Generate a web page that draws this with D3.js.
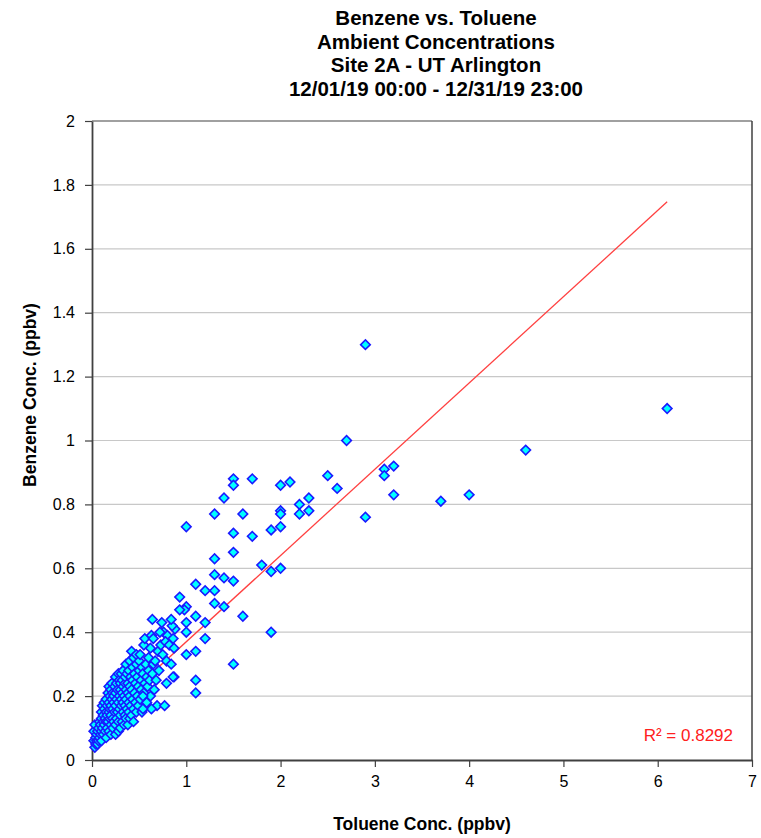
<!DOCTYPE html>
<html>
<head>
<meta charset="utf-8">
<script src="https://cdn.jsdelivr.net/npm/d3@7"></script>
<style>
  body { margin: 0; background: #fff; }
  text { font-family: "Liberation Sans", Arial, sans-serif; }
</style>
</head>
<body>
<div id="chart"></div>
<script>
// title lines
const titleLines = ["Benzene vs. Toluene", "Ambient Concentrations", "Site 2A - UT Arlington", "12/01/19 00:00 - 12/31/19 23:00"];
const xLabel = "Toluene Conc. (ppbv)";
const yLabel = "Benzene Conc. (ppbv)";
const xTicks = [0, 1, 2, 3, 4, 5, 6, 7];
const yTicks = [0, 0.2, 0.4, 0.6, 0.8, 1, 1.2, 1.4, 1.6, 1.8, 2];

// linear trendline
const trendSlope = 0.27;
const trendIntercept = 0.10;
const r2Label = "R\u00b2 = 0.8292";

// [toluene, benzene] - dense cluster near origin
const clusterPts = [
  [0.02,0.06],[0.02,0.09],[0.03,0.04],[0.03,0.11],[0.04,0.05],[0.04,0.07],[0.05,0.06],[0.05,0.08],[0.06,0.05],[0.06,0.09],
  [0.07,0.06],[0.07,0.10],[0.08,0.07],[0.08,0.12],[0.09,0.08],[0.09,0.11],[0.10,0.06],[0.10,0.09],[0.10,0.13],[0.10,0.15],
  [0.11,0.10],[0.11,0.17],[0.12,0.08],[0.12,0.12],[0.12,0.14],[0.13,0.11],[0.13,0.16],[0.13,0.18],[0.14,0.09],[0.14,0.13],
  [0.15,0.07],[0.15,0.12],[0.15,0.15],[0.15,0.19],[0.16,0.10],[0.16,0.14],[0.16,0.17],[0.17,0.12],[0.17,0.21],[0.18,0.09],
  [0.18,0.15],[0.18,0.18],[0.18,0.23],[0.19,0.13],[0.19,0.16],[0.19,0.20],[0.20,0.08],[0.20,0.11],[0.20,0.14],[0.20,0.17],
  [0.20,0.22],[0.21,0.19],[0.21,0.24],[0.22,0.10],[0.22,0.13],[0.22,0.16],[0.22,0.21],[0.23,0.12],[0.23,0.18],[0.23,0.20],
  [0.24,0.15],[0.24,0.23],[0.25,0.08],[0.25,0.11],[0.25,0.17],[0.25,0.21],[0.25,0.26],[0.26,0.13],[0.26,0.19],[0.26,0.24],
  [0.27,0.15],[0.27,0.22],[0.28,0.09],[0.28,0.12],[0.28,0.18],[0.28,0.27],[0.29,0.16],[0.29,0.20],[0.29,0.25],[0.30,0.10],
  [0.30,0.14],[0.30,0.22],[0.30,0.24],[0.31,0.17],[0.31,0.19],[0.31,0.27],[0.32,0.12],[0.32,0.21],[0.32,0.25],[0.33,0.15],
  [0.33,0.18],[0.33,0.23],[0.33,0.28],[0.34,0.11],[0.34,0.20],[0.35,0.14],[0.35,0.17],[0.35,0.24],[0.35,0.26],[0.36,0.13],
  [0.36,0.19],[0.36,0.22],[0.36,0.30],[0.37,0.16],[0.37,0.27],[0.38,0.11],[0.38,0.21],[0.38,0.24],[0.39,0.15],[0.39,0.18],
  [0.39,0.28],[0.40,0.13],[0.40,0.20],[0.40,0.23],[0.40,0.31],[0.41,0.17],[0.41,0.26],[0.42,0.14],[0.42,0.22],[0.42,0.34],
  [0.43,0.19],[0.43,0.25],[0.43,0.29],[0.44,0.12],[0.44,0.16],[0.44,0.32],[0.45,0.21],[0.45,0.27],[0.46,0.18],[0.46,0.24],
  [0.47,0.15],[0.47,0.30],[0.47,0.33],[0.48,0.20],[0.48,0.26],[0.49,0.17],[0.49,0.23],[0.50,0.28],[0.50,0.31],[0.51,0.19],
  [0.51,0.33],[0.52,0.22],[0.52,0.25],[0.53,0.15],[0.53,0.29],[0.54,0.27],[0.55,0.21],[0.55,0.36],[0.56,0.24],[0.56,0.38],
  [0.57,0.30],[0.58,0.18],[0.58,0.26],[0.59,0.23],[0.60,0.32],[0.60,0.28],[0.61,0.25],[0.62,0.20],[0.62,0.35],[0.63,0.39],
  [0.64,0.27],[0.65,0.30],[0.66,0.22],[0.67,0.31],[0.68,0.25],[0.70,0.34],[0.71,0.28],[0.73,0.36],[0.75,0.33],[0.76,0.40],
  [0.80,0.39]
];

// [toluene, benzene] - scattered points
const outerPts = [
  [6.1,1.10],[4.6,0.97],[4.0,0.83],[3.7,0.81],[3.2,0.92],[3.1,0.91],[3.1,0.89],[3.2,0.83],[2.9,1.30],[2.9,0.76],
  [2.7,1.00],[2.6,0.85],[2.5,0.89],[2.3,0.82],[2.3,0.78],[2.2,0.80],[2.2,0.77],[2.1,0.87],[2.0,0.86],[2.0,0.78],
  [2.0,0.77],[2.0,0.73],[1.9,0.72],[1.9,0.59],[2.0,0.60],[1.9,0.40],[1.8,0.61],[1.7,0.88],[1.7,0.70],[1.6,0.77],
  [1.6,0.45],[1.5,0.88],[1.5,0.86],[1.5,0.71],[1.5,0.65],[1.5,0.56],[1.5,0.30],[1.4,0.82],[1.4,0.57],[1.4,0.48],
  [1.3,0.77],[1.3,0.63],[1.3,0.58],[1.3,0.53],[1.3,0.49],[1.2,0.53],[1.2,0.43],[1.2,0.38],[1.1,0.55],[1.1,0.45],
  [1.1,0.34],[1.1,0.25],[1.1,0.21],[1.0,0.73],[1.0,0.48],[0.98,0.47],[1.0,0.43],[1.0,0.40],[1.0,0.33],[0.93,0.51],
  [0.93,0.47],[0.88,0.41],[0.87,0.26],[0.85,0.42],[0.84,0.44],[0.74,0.43],[0.64,0.44],[0.65,0.38],[0.72,0.40],[0.78,0.37],
  [0.82,0.36],[0.87,0.35],[0.79,0.31],[0.79,0.24],[0.69,0.17],[0.77,0.17],[0.63,0.16],[0.54,0.16],[0.54,0.20],[0.86,0.38],
  [0.84,0.30],[0.86,0.26]
];

const width = 761, height = 838;
const margin = {top: 121, right: 9, bottom: 78, left: 92};
const plotW = width - margin.left - margin.right;
const plotH = height - margin.top - margin.bottom;

const svg = d3.select("#chart").append("svg")
  .attr("width", width)
  .attr("height", height);

const x = d3.scaleLinear().domain([0, 7]).range([0, plotW]);
const y = d3.scaleLinear().domain([0, 2]).range([plotH, 0]);

const g = svg.append("g").attr("transform", `translate(${margin.left},${margin.top})`);

// gridlines
g.append("g")
  .selectAll("line")
  .data(yTicks.filter(d => d > 0 && d < 2))
  .enter().append("line")
  .attr("x1", 0).attr("x2", plotW)
  .attr("y1", d => y(d)).attr("y2", d => y(d))
  .attr("stroke", "#c8c8c8")
  .attr("stroke-width", 1.2);

// plot border top / right
g.append("line").attr("x1", 0).attr("x2", plotW).attr("y1", 0).attr("y2", 0)
  .attr("stroke", "#808080").attr("stroke-width", 1.5);
g.append("line").attr("x1", plotW).attr("x2", plotW).attr("y1", 0).attr("y2", plotH)
  .attr("stroke", "#404040").attr("stroke-width", 1.5);

// axes
const fmt = d => String(+d.toFixed(1));
const xAxis = g.append("g")
  .attr("transform", `translate(0,${plotH})`)
  .call(d3.axisBottom(x).tickValues(xTicks).tickSize(7).tickSizeOuter(0).tickPadding(9).tickFormat(fmt));
const yAxis = g.append("g")
  .call(d3.axisLeft(y).tickValues(yTicks).tickSize(7).tickSizeOuter(0).tickPadding(10).tickFormat(fmt));

[xAxis, yAxis].forEach(a => {
  a.select(".domain").attr("stroke", "#404040").attr("stroke-width", 1.8);
  a.selectAll(".tick line").attr("stroke", "#404040").attr("stroke-width", 1.2);
  a.selectAll(".tick text")
    .attr("fill", "#000")
    .style("font-size", "16px")
    .style("font-family", "'Liberation Sans', Arial, sans-serif");
});

// trendline
const allPts = clusterPts.concat(outerPts);
const xMin = d3.min(allPts, d => d[0]);
const xMax = d3.max(allPts, d => d[0]);
g.append("line")
  .attr("x1", x(xMin)).attr("y1", y(trendIntercept + trendSlope * xMin))
  .attr("x2", x(xMax)).attr("y2", y(trendIntercept + trendSlope * xMax))
  .attr("stroke", "#ff4040")
  .attr("stroke-width", 1.3);

// points (diamonds)
const diamond = d3.symbol().type(d3.symbolSquare).size(46);
g.append("g")
  .selectAll("path")
  .data(allPts)
  .enter().append("path")
  .attr("d", diamond)
  .attr("transform", d => `translate(${x(d[0])},${y(d[1])}) rotate(45)`)
  .attr("fill", "#00ffff")
  .attr("stroke", "#1a1aff")
  .attr("stroke-width", 1.6);

// R squared label
g.append("text")
  .attr("x", 733 - margin.left).attr("y", 741 - margin.top)
  .attr("text-anchor", "end")
  .attr("fill", "#ff2020")
  .style("font-size", "17px")
  .text(r2Label);

// title
svg.append("g").selectAll("text")
  .data(titleLines)
  .enter().append("text")
  .attr("x", 436)
  .attr("y", (d, i) => 25 + i * 23.5)
  .attr("text-anchor", "middle")
  .style("font-size", "20.5px")
  .style("font-weight", "bold")
  .text(d => d);

// axis titles
svg.append("text")
  .attr("x", 422)
  .attr("y", 830)
  .attr("text-anchor", "middle")
  .style("font-size", "17.5px")
  .style("font-weight", "bold")
  .text(xLabel);

svg.append("text")
  .attr("transform", "translate(36,395) rotate(-90)")
  .attr("text-anchor", "middle")
  .style("font-size", "17.5px")
  .style("font-weight", "bold")
  .text(yLabel);
</script>
</body>
</html>
